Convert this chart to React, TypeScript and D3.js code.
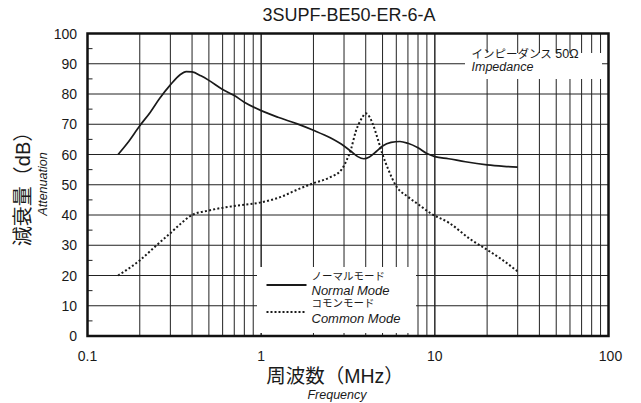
import React from 'react';
import * as d3 from 'd3';

const title = '3SUPF-BE50-ER-6-A';

const normalFreq = [0.15, 0.17, 0.2, 0.23, 0.26, 0.3, 0.34, 0.37, 0.4, 0.45, 0.5, 0.6, 0.7, 0.8, 1.0, 1.25, 1.6, 2.0, 2.5, 3.0, 3.3, 3.6, 3.9, 4.2, 4.6, 5.0, 5.6, 6.3, 7.0, 8.0, 9.0, 10, 12, 15, 20, 25, 30];
const normalDb = [60, 63.8, 69.5, 74, 78.5, 83, 86.3, 87.4, 87.3, 86, 84.5, 81.5, 79.5, 77.3, 74.5, 72.3, 70.2, 68, 65.5, 62.8, 61, 59.3, 58.6, 59.2, 61, 62.8, 64, 64.3, 63.7, 62.2, 60.3, 59.3, 58.6, 57.6, 56.6, 56.1, 55.8];

const commonFreq = [0.15, 0.2, 0.25, 0.3, 0.35, 0.4, 0.5, 0.7, 1.0, 1.3, 1.6, 2.0, 2.5, 2.9, 3.1, 3.3, 3.5, 3.8, 4.0, 4.2, 4.4, 4.7, 5.0, 5.4, 6.0, 7.0, 8.0, 9.5, 12, 16, 20, 25, 30];
const commonDb = [20, 25, 30, 34, 37.5, 40, 41.5, 43, 44.2, 46, 48.3, 50.5, 52.5, 55, 58, 62, 67.5, 72, 73.6, 72.5, 70, 65, 60, 55, 49.5, 46, 43.6, 40.5, 37.5, 32, 28.5, 24.8, 21.3];

const xTickValues = [0.1, 1, 10, 100];
const xTickLabels = ['0.1', '1', '10', '100'];
const yTickValues = [0, 10, 20, 30, 40, 50, 60, 70, 80, 90, 100];

const yLabel = '減衰量（dB）';
const yLabelEn = 'Attenuation';
const xLabel = '周波数（MHz）';
const xLabelEn = 'Frequency';
const legendNames = ['ノーマルモード', 'コモンモード'];
const legendNamesEn = ['Normal Mode', 'Common Mode'];
const noteJa = 'インピーダンス 50Ω';
const noteEn = 'Impedance';

const W = 641, H = 403;
const L = 87.5, R = 608.5, T = 33.5, B = 336;
const FONT = "'Liberation Sans', Arial, Helvetica, 'Noto Sans CJK JP', sans-serif";
const INK = '#1a1a1a';

export default function App() {
  const x = d3.scaleLog().domain([0.1, 100]).range([L, R]);
  const y = d3.scaleLinear().domain([0, 100]).range([B, T]);
  const line = d3.line<[number, number]>().x(d => x(d[0])).y(d => y(d[1])).curve(d3.curveMonotoneX);

  const normal: [number, number][] = normalFreq.map((f, i) => [f, normalDb[i]]);
  const common: [number, number][] = commonFreq.map((f, i) => [f, commonDb[i]]);

  const vGrid: number[] = [];
  [0.1, 1, 10].forEach(dec => {
    for (let k = 1; k <= 10; k++) {
      const v = dec * k;
      if (v > 0.1 && v < 100) vGrid.push(v);
    }
  });
  const hGrid = yTickValues.filter(v => v > 0 && v < 100);
  const minorY = d3.range(5, 100, 10);

  return (
    <svg width={W} height={H} style={{ position: 'absolute', left: 0, top: 0, background: '#fff' }} fontFamily={FONT}>
      <rect x={0} y={0} width={W} height={H} fill="#fff" />
      <text x={349} y={21} fontSize={18} textAnchor="middle" fill={INK}>{title}</text>

      {vGrid.map(v => (
        <line key={'v' + v} x1={x(v)} x2={x(v)} y1={T} y2={B} stroke="#222" strokeWidth={1} />
      ))}
      {hGrid.map(v => (
        <line key={'h' + v} x1={L} x2={R} y1={y(v)} y2={y(v)} stroke="#222" strokeWidth={1} />
      ))}
      {minorY.map(v => (
        <line key={'m' + v} x1={L} x2={L + 5} y1={y(v)} y2={y(v)} stroke="#222" strokeWidth={1} />
      ))}

      {/* annotation box */}
      <rect x={465} y={53} width={137} height={26} fill="#fff" />
      <text x={471.5} y={58} fontSize={11.5} fill={INK}>
        <tspan>インピーダンス</tspan>
        <tspan fontSize={12.5}> 50Ω</tspan>
      </text>
      <text x={471.5} y={71} fontSize={12.5} fontStyle="italic" fill={INK}>{noteEn}</text>

      {/* legend box */}
      <rect x={257} y={267} width={159} height={66} fill="#fff" />
      <line x1={266.5} x2={306.5} y1={285} y2={285} stroke={INK} strokeWidth={1.8} />
      <line x1={266.5} x2={306.5} y1={312} y2={312} stroke={INK} strokeWidth={2} strokeDasharray="2,2" />
      <text x={311.5} y={279.5} fontSize={10.5} fill={INK}>{legendNames[0]}</text>
      <text x={311.5} y={295} fontSize={13} fontStyle="italic" fill={INK}>{legendNamesEn[0]}</text>
      <text x={311.5} y={306.5} fontSize={10.5} fill={INK}>{legendNames[1]}</text>
      <text x={311.5} y={323} fontSize={13} fontStyle="italic" fill={INK}>{legendNamesEn[1]}</text>

      {/* curves */}
      <path d={line(normal) || ''} fill="none" stroke={INK} strokeWidth={1.7} />
      <path d={line(common) || ''} fill="none" stroke={INK} strokeWidth={2} strokeDasharray="2,2.2" />

      {/* frame */}
      <rect x={L} y={T} width={R - L} height={B - T} fill="none" stroke="#111" strokeWidth={2.5} />

      {/* tick labels */}
      {yTickValues.map(v => (
        <text key={'yl' + v} x={77} y={y(v)} dy="0.36em" fontSize={14} textAnchor="end" fill={INK}>{v}</text>
      ))}
      {xTickValues.map((v, i) => (
        <text key={'xl' + v} x={x(v) + (i === 3 ? 2 : 0)} y={361} fontSize={14} textAnchor="middle" fill={INK}>{xTickLabels[i]}</text>
      ))}

      {/* axis titles */}
      <text transform={`translate(30,184) rotate(-90)`} fontSize={20} textAnchor="middle" fill={INK}>{yLabel}</text>
      <text transform={`translate(46.5,184) rotate(-90)`} fontSize={12.5} fontStyle="italic" textAnchor="middle" fill={INK}>{yLabelEn}</text>
      <text x={335} y={383} fontSize={19.5} textAnchor="middle" fill={INK}>{xLabel}</text>
      <text x={337} y={398.5} fontSize={12.5} fontStyle="italic" textAnchor="middle" fill={INK}>{xLabelEn}</text>
    </svg>
  );
}
